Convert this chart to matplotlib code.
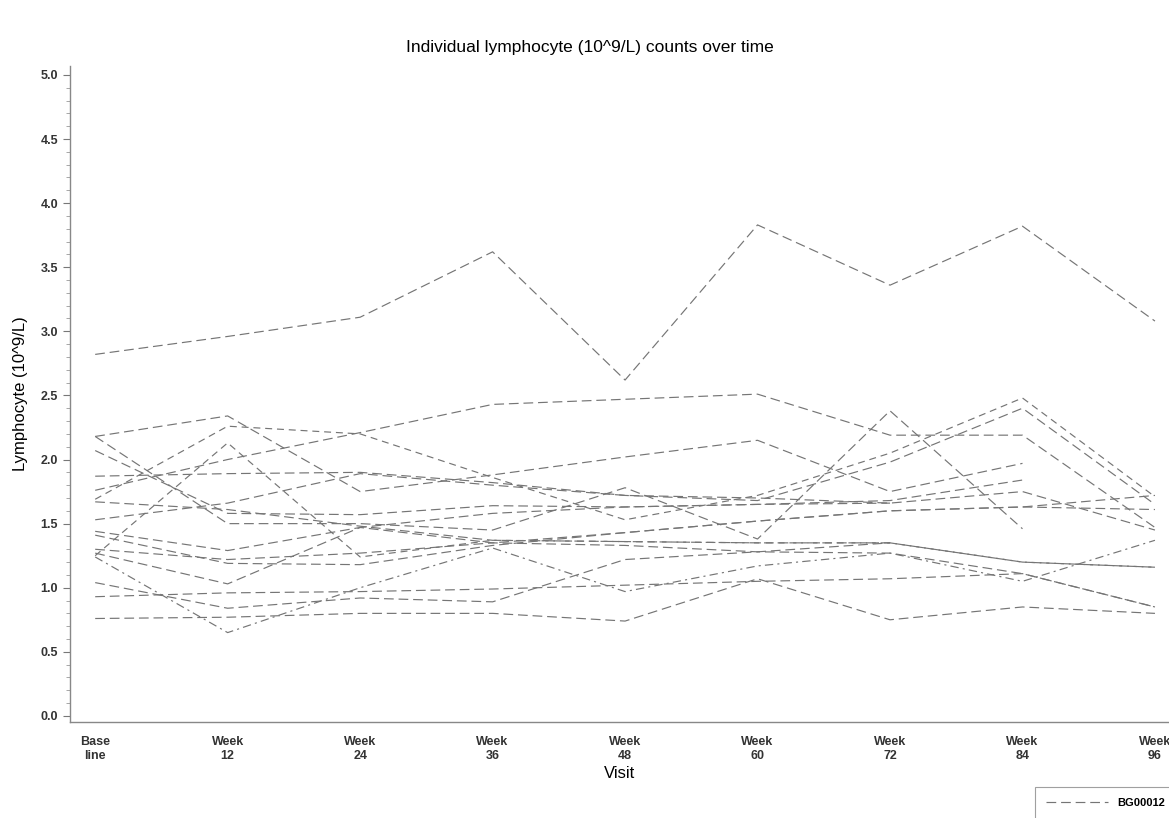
import numpy as np
import matplotlib
matplotlib.use("Agg")
import matplotlib.pyplot as plt
from matplotlib.ticker import MultipleLocator

nan = np.nan

visits = ["Base\nline", "Week\n12", "Week\n24", "Week\n36", "Week\n48",
          "Week\n60", "Week\n72", "Week\n84", "Week\n96"]

# one row per subject (10^9/L)
s01 = [2.82, 2.96, 3.11, 3.62, 2.62, 3.83, 3.36, 3.82, 3.08]
s02 = [1.76, 2.00, 2.21, 2.43, 2.47, 2.51, 2.19, 2.19, 1.47]
s03 = [2.18, 2.34, 1.75, 1.88, 2.02, 2.15, 1.75, 1.97, nan]
s04 = [1.69, 2.26, 2.20, 1.86, 1.53, 1.72, 2.05, 2.48, 1.71]
s05 = [1.87, 1.89, 1.90, 1.82, 1.72, 1.68, 1.98, 2.40, 1.65]
s06 = [2.18, 1.50, 1.50, 1.45, 1.78, 1.38, 2.38, 1.46, nan]
s07 = [2.07, 1.58, 1.57, 1.64, 1.63, 1.65, 1.68, 1.84, nan]
s08 = [1.67, 1.61, 1.48, 1.37, 1.36, 1.35, 1.35, 1.20, 1.16]
s09 = [1.53, 1.66, 1.89, 1.80, 1.72, 1.70, 1.66, 1.75, 1.45]
s10 = [1.44, 1.29, 1.47, 1.35, 1.43, 1.52, 1.60, 1.63, 1.72]
s11 = [1.41, 1.19, 1.18, 1.33, 1.43, 1.52, 1.60, 1.63, 1.61]
s12 = [1.30, 1.22, 1.27, 1.35, 1.33, 1.28, 1.27, 1.11, 0.85]
s13 = [1.27, 1.03, 1.47, 1.58, 1.63, 1.65, 1.66, nan, nan]
s14 = [1.25, 2.13, 1.24, 1.37, 1.36, 1.35, 1.35, nan, nan]
s15 = [1.24, 0.65, 1.00, 1.31, 0.97, 1.17, 1.27, 1.05, 1.37]
s16 = [1.04, 0.84, 0.92, 0.89, 1.22, 1.28, 1.35, 1.20, 1.16]
s17 = [0.93, 0.96, 0.97, 0.99, 1.02, 1.05, 1.07, 1.11, 0.85]
s18 = [0.76, 0.77, 0.80, 0.80, 0.74, 1.07, 0.75, 0.85, 0.80]

subjects = [s01, s02, s03, s04, s05, s06, s07, s08, s09,
            s10, s11, s12, s13, s14, s15, s16, s17, s18]

plt.rcParams['font.family'] = ['Liberation Sans', 'DejaVu Sans']
plt.rcParams['lines.scale_dashes'] = False

fig = plt.figure(figsize=(11.69, 8.18), dpi=100)
ax = fig.add_axes([0.0599, 0.1174, 0.9401, 0.802])

x = np.arange(len(visits))
line_col = '#757575'
for i, vals in enumerate(subjects):
    d = (7, 3.5)
    if i in (3, 13):
        d = (5, 3.5)
    elif i == 14:
        d = (6, 3, 1.5, 3)
    ax.plot(x, vals, color=line_col, lw=0.85, dashes=d)

ax.set_xlim(-0.19, 8.106)
ax.set_ylim(-0.047, 5.07)
ax.set_xticks(x)
ax.set_xticklabels(visits, fontsize=9, fontweight='bold', color='#333333',
                   linespacing=1.25)
ax.tick_params(axis='x', length=0, pad=10)
ax.yaxis.set_major_locator(MultipleLocator(0.5))
ax.yaxis.set_minor_locator(MultipleLocator(0.1))
ax.set_yticks(np.arange(0, 5.01, 0.5))
ax.set_yticklabels([f"{v:.1f}" for v in np.arange(0, 5.01, 0.5)],
                   fontsize=9, fontweight='bold', color='#333333')
ax.tick_params(axis='y', which='major', length=5, color='#777777')
ax.tick_params(axis='y', which='minor', length=3, color='#999999')

for side in ['top', 'right']:
    ax.spines[side].set_visible(False)
for side in ['left', 'bottom']:
    ax.spines[side].set_color('#888888')
    ax.spines[side].set_linewidth(1.0)

ax.set_xlabel("Visit", fontsize=12, labelpad=3)
ax.set_ylabel("Lymphocyte (10^9/L)", fontsize=12, labelpad=9)
fig.text(0.505, 0.9425, "Individual lymphocyte (10^9/L) counts over time",
         ha='center', va='center', fontsize=12.5)

handle, = ax.plot([], [], color=line_col, lw=0.85, dashes=(7, 3.5))
leg = fig.legend([handle], ["BG00012"], loc='upper left',
                 bbox_to_anchor=(1035 / 1169, 1 - 787 / 818),
                 fontsize=8, frameon=True, fancybox=False,
                 handlelength=5.6, handletextpad=0.8,
                 borderpad=1.0, borderaxespad=0)
for t in leg.get_texts():
    t.set_fontweight('bold')
leg.get_frame().set_edgecolor('#888888')
leg.get_frame().set_linewidth(0.8)

fig.savefig("out.png", dpi=100)
